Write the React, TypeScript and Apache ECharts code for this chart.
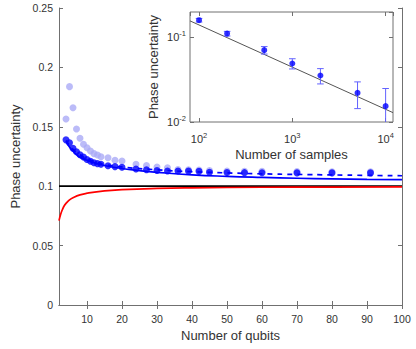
import React, { useEffect, useRef } from 'react';
import * as echarts from 'echarts';

// ---------- main plot data ----------
const qubitTicks = [10, 20, 30, 40, 50, 60, 70, 80, 90, 100];
const uncTicks = [0, 0.05, 0.1, 0.15, 0.2, 0.25];

const pointN = [4, 5, 6, 7, 8, 9, 10, 11, 12, 13, 14, 16, 18, 20, 24, 27, 30, 33, 36, 39, 42, 45, 50, 55, 60, 70, 80, 91];
const lightVals = [0.1566, 0.1838, 0.1661, 0.1481, 0.1403, 0.1353, 0.1324, 0.1296, 0.1274, 0.1263, 0.1248, 0.124, 0.1218, 0.1212, 0.1184, 0.1173, 0.1162, 0.1156, 0.114, 0.1138, 0.1136, 0.1132, 0.1128, 0.1126, 0.1125, 0.1124, 0.1122, 0.1122];
const darkVals = [0.139, 0.1365, 0.132, 0.129, 0.1265, 0.1245, 0.1225, 0.121, 0.1198, 0.119, 0.1185, 0.1172, 0.1165, 0.116, 0.1145, 0.1138, 0.1132, 0.1128, 0.1128, 0.1127, 0.1125, 0.1118, 0.1115, 0.1114, 0.1113, 0.1112, 0.1112, 0.1112];

const solidN = [4, 5, 6, 7, 8, 10, 12, 15, 20, 25, 30, 40, 50, 60, 70, 80, 90, 100];
const solidVals = [0.1377, 0.1329, 0.1294, 0.1266, 0.1243, 0.1218, 0.1197, 0.1174, 0.1149, 0.1131, 0.1117, 0.1096, 0.1083, 0.1074, 0.1067, 0.1062, 0.1058, 0.1055];

const dashedN = [4, 6, 8, 10, 15, 20, 30, 40, 50, 60, 70, 80, 90, 100];
const dashedVals = [0.1385, 0.131, 0.1265, 0.123, 0.1185, 0.1162, 0.1138, 0.1122, 0.1112, 0.1104, 0.1099, 0.1095, 0.1091, 0.1088];

const redN = [2, 2.5, 3, 3.5, 4, 5, 6, 8, 10, 15, 20, 30, 40, 60, 80, 100];
const redVals = [0.071, 0.0765, 0.0805, 0.0835, 0.0855, 0.0885, 0.0903, 0.0927, 0.0941, 0.0961, 0.0971, 0.0981, 0.0986, 0.0991, 0.0993, 0.0994];

const limitN = [2, 100];
const limitVals = [0.1, 0.1];

// ---------- inset data ----------
const sampleN = [100, 200, 500, 1000, 2000, 5000, 10000];
const sampleVals = [0.16, 0.111, 0.0708, 0.0492, 0.0355, 0.0221, 0.0154];
const sampleErr = [0.008, 0.007, 0.0072, 0.0068, 0.0073, 0.0077, 0.0095];
const fitN = [80, 12000];
const fitVals = [0.157, 0.0129];

const X_MIN = 2, X_MAX = 100;
const IX_MIN = 80, IX_MAX = 12000;
const IY_MIN = 0.01, IY_MAX = 0.2;

const FONT = "'Liberation Sans', Arial, Helvetica, sans-serif";
const TXT = '#333333';
const AX = '#707070';
const NAME_SIZE = 13;
const TICK_SIZE = 10.5;

const zip = (a: number[], b: number[]) => a.map((v, i) => [v, b[i]]);

const powLabel = (v: number) => {
  const l = Math.log10(v);
  const e = Math.round(l);
  if (Math.abs(l - e) > 1e-6) return '';
  return `{b|10}{s|${e}}`;
};
const powRich = {
  b: { fontSize: 11, color: TXT, fontFamily: FONT },
  s: { fontSize: 7.5, color: TXT, fontFamily: FONT, padding: [0, 0, 8, 0] },
};

export default function App() {
  const ref = useRef<HTMLDivElement>(null);
  useEffect(() => {
    const chart = echarts.init(ref.current!, null, { renderer: 'svg' });
    const tickStyle = { inside: true, length: 4, lineStyle: { color: AX, width: 1 } };
    const nameStyle = { fontSize: NAME_SIZE, color: TXT };
    const option: any = {
      animation: false,
      backgroundColor: '#fff',
      textStyle: { fontFamily: FONT, color: TXT },
      grid: [
        { left: 59, right: 14, top: 8, bottom: 44 },
        { left: 190, right: 23, top: 12, bottom: 227, show: true, backgroundColor: '#fff', borderColor: AX, borderWidth: 1, z: 5 },
      ],
      xAxis: [
        {
          type: 'value', gridIndex: 0, min: X_MIN, max: X_MAX, position: 'bottom',
          name: 'Number of qubits', nameLocation: 'middle', nameGap: 24, nameTextStyle: nameStyle,
          axisLine: { lineStyle: { color: AX } },
          axisTick: { ...tickStyle, customValues: qubitTicks },
          axisLabel: { fontSize: TICK_SIZE, color: TXT, margin: 8, customValues: qubitTicks },
          splitLine: { show: false },
        },
        {
          type: 'value', gridIndex: 0, min: X_MIN, max: X_MAX, position: 'top',
          axisLine: { lineStyle: { color: AX } },
          axisTick: { ...tickStyle, customValues: qubitTicks },
          axisLabel: { show: false, customValues: qubitTicks },
          splitLine: { show: false },
        },
        {
          type: 'log', logBase: 10, gridIndex: 1, min: IX_MIN, max: IX_MAX, position: 'bottom', z: 6,
          name: 'Number of samples', nameLocation: 'middle', nameGap: 26, nameTextStyle: nameStyle,
          axisLine: { show: false },
          axisTick: tickStyle,
          axisLabel: { margin: 9, formatter: powLabel, rich: powRich, showMinLabel: false, showMaxLabel: false },
          splitLine: { show: false },
          minorTick: { show: false },
        },
        {
          type: 'log', logBase: 10, gridIndex: 1, min: IX_MIN, max: IX_MAX, position: 'top', z: 6,
          axisLine: { show: false },
          axisTick: tickStyle,
          axisLabel: { show: false },
          splitLine: { show: false },
        },
      ],
      yAxis: [
        {
          type: 'value', gridIndex: 0, min: 0, max: 0.25, interval: 0.05, position: 'left',
          name: 'Phase uncertainty', nameLocation: 'middle', nameGap: 30, nameTextStyle: nameStyle,
          axisLine: { show: true, lineStyle: { color: AX } },
          axisTick: { ...tickStyle, customValues: uncTicks },
          axisLabel: { fontSize: TICK_SIZE, color: TXT, margin: 6, customValues: uncTicks },
          splitLine: { show: false },
        },
        {
          type: 'value', gridIndex: 0, min: 0, max: 0.25, interval: 0.05, position: 'right',
          axisLine: { show: true, lineStyle: { color: AX } },
          axisTick: { ...tickStyle, customValues: uncTicks },
          axisLabel: { show: false },
          splitLine: { show: false },
        },
        {
          type: 'log', logBase: 10, gridIndex: 1, min: IY_MIN, max: IY_MAX, position: 'left', z: 6,
          name: 'Phase uncertainty', nameLocation: 'middle', nameGap: 30, nameTextStyle: nameStyle,
          axisLine: { show: false },
          axisTick: tickStyle,
          axisLabel: { margin: 4, formatter: powLabel, rich: powRich, showMaxLabel: false },
          splitLine: { show: false },
        },
        {
          type: 'log', logBase: 10, gridIndex: 1, min: IY_MIN, max: IY_MAX, position: 'right', z: 6,
          axisLine: { show: false },
          axisTick: tickStyle,
          axisLabel: { show: false },
          splitLine: { show: false },
        },
      ],
      series: [
        {
          type: 'line', xAxisIndex: 0, yAxisIndex: 0, data: zip(limitN, limitVals),
          symbol: 'none', lineStyle: { color: '#000', width: 1.7 }, z: 2,
        },
        {
          type: 'line', xAxisIndex: 0, yAxisIndex: 0, data: zip(redN, redVals), smooth: true,
          symbol: 'none', lineStyle: { color: '#ff0000', width: 1.7 }, z: 3,
        },
        {
          type: 'scatter', xAxisIndex: 0, yAxisIndex: 0, data: zip(pointN, lightVals),
          symbolSize: 7, itemStyle: { color: '#aaaaf6' }, z: 3,
        },
        {
          type: 'line', xAxisIndex: 0, yAxisIndex: 0, data: zip(solidN, solidVals), smooth: true,
          symbol: 'none', lineStyle: { color: '#0000ff', width: 1.7 }, z: 4,
        },
        {
          type: 'line', xAxisIndex: 0, yAxisIndex: 0, data: zip(dashedN, dashedVals), smooth: true,
          symbol: 'none', lineStyle: { color: '#0000ff', width: 1.7, type: [5, 5] }, z: 4,
        },
        {
          type: 'scatter', xAxisIndex: 0, yAxisIndex: 0, data: zip(pointN, darkVals),
          symbolSize: 7, itemStyle: { color: '#0000ff' }, z: 5,
        },
        // inset
        {
          type: 'line', xAxisIndex: 2, yAxisIndex: 2, data: zip(fitN, fitVals),
          symbol: 'none', lineStyle: { color: '#555', width: 1 }, z: 10,
        },
        {
          type: 'custom', xAxisIndex: 2, yAxisIndex: 2, z: 11,
          data: sampleN.map((n, i) => [n, sampleVals[i], sampleErr[i]]),
          renderItem: (params: any, api: any) => {
            const n = api.value(0), v = api.value(1), e = api.value(2);
            const cs = params.coordSys;
            const bottom = cs.y + cs.height;
            const hi = api.coord([n, v + e]);
            const loVal = v - e;
            let lo = loVal > 0 ? api.coord([n, loVal]) : [hi[0], bottom];
            const clipped = lo[1] > bottom;
            if (clipped) lo = [lo[0], bottom];
            const c = 3.3;
            const st = { stroke: '#6262ff', lineWidth: 1 };
            const children: any[] = [
              { type: 'line', shape: { x1: hi[0], y1: hi[1], x2: lo[0], y2: lo[1] }, style: st },
              { type: 'line', shape: { x1: hi[0] - c, y1: hi[1], x2: hi[0] + c, y2: hi[1] }, style: st },
            ];
            if (!clipped) children.push({ type: 'line', shape: { x1: lo[0] - c, y1: lo[1], x2: lo[0] + c, y2: lo[1] }, style: st });
            return { type: 'group', children };
          },
        },
        {
          type: 'scatter', xAxisIndex: 2, yAxisIndex: 2, data: zip(sampleN, sampleVals),
          symbolSize: 6, itemStyle: { color: '#0000ff' }, z: 12,
        },
      ],
    };
    chart.setOption(option);
    return () => chart.dispose();
  }, []);
  return (
    <div
      ref={ref}
      style={{ position: 'fixed', left: 0, top: 0, width: 416, height: 349, background: '#fff' }}
    />
  );
}
